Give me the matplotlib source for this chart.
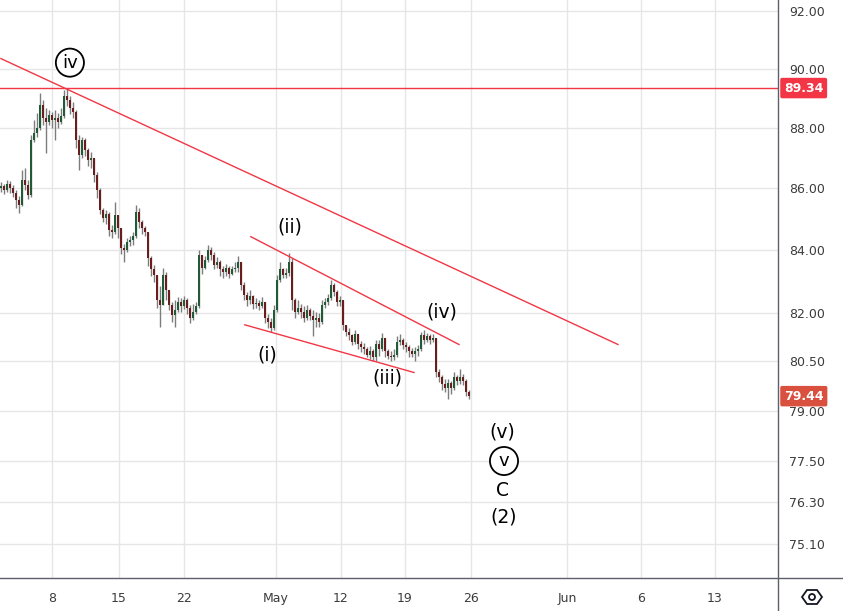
import numpy as np
import matplotlib
matplotlib.use("Agg")
import matplotlib.pyplot as plt
from matplotlib.ticker import FixedLocator, FixedFormatter, NullLocator, NullFormatter
from matplotlib.transforms import blended_transform_factory
from matplotlib.lines import Line2D
from matplotlib.patches import Polygon, Circle

# --- candle data (4h-ish bars) ---
first_open = 86.00
closes = [86.07, 85.94, 86.13, 86.00, 85.84, 85.61, 85.45, 86.27, 86.10, 85.77,
          87.60, 87.83, 88.00, 88.77, 88.33, 88.20, 88.43, 88.27, 88.33, 88.20,
          88.40, 89.07, 88.93, 88.67, 88.53, 87.60, 87.10, 87.60, 87.27, 86.93,
          87.00, 86.43, 85.94, 85.29, 85.03, 85.16, 84.65, 84.58, 85.13, 84.71,
          84.06, 84.00, 84.26, 84.32, 84.45, 85.23, 84.90, 84.71, 84.58, 83.75,
          83.37, 83.21, 82.41, 82.25, 83.21, 82.73, 82.25, 81.94, 82.10, 82.35,
          82.22, 82.41, 82.16, 81.85, 82.03, 82.22, 83.84, 83.43, 83.68, 84.00,
          83.84, 83.52, 83.62, 83.37, 83.30, 83.43, 83.24, 83.37, 83.43, 83.62,
          82.89, 82.57, 82.41, 82.54, 82.29, 82.32, 82.22, 82.35, 81.85, 81.72,
          81.54, 82.10, 83.05, 83.37, 83.21, 83.27, 83.62, 82.41, 82.03, 82.16,
          82.03, 81.85, 82.10, 81.91, 81.79, 81.85, 81.72, 82.25, 82.35, 82.48,
          82.89, 82.67, 82.35, 82.41, 81.63, 81.42, 81.30, 81.11, 81.33, 81.02,
          80.93, 80.87, 80.71, 80.81, 80.62, 81.02, 80.87, 81.23, 80.81, 80.68,
          80.62, 80.71, 81.11, 81.17, 80.99, 80.93, 80.81, 80.74, 80.81, 80.87,
          81.30, 81.17, 81.27, 81.17, 81.23, 80.19, 80.01, 79.80, 79.70, 79.83,
          79.70, 80.01, 79.89, 80.01, 79.89, 79.58, 79.44]
highs = [86.20, 86.13, 86.27, 86.23, 86.10, 85.94, 85.74, 86.60, 86.67, 86.27,
         87.77, 88.27, 88.50, 89.17, 88.93, 88.67, 88.60, 88.53, 88.60, 88.50,
         88.67, 89.27, 89.34, 89.07, 88.87, 88.60, 87.77, 87.70, 87.67, 87.33,
         87.20, 87.00, 86.53, 86.00, 85.35, 85.29, 85.23, 84.81, 85.55, 85.13,
         84.71, 84.19, 84.39, 84.45, 84.58, 85.45, 85.35, 84.97, 84.77, 84.58,
         83.81, 83.52, 83.21, 82.86, 83.43, 83.30, 82.67, 82.35, 82.41, 82.51,
         82.48, 82.54, 82.48, 82.25, 82.29, 82.35, 84.00, 83.84, 83.81, 84.16,
         84.10, 83.94, 83.78, 83.68, 83.49, 83.56, 83.49, 83.49, 83.62, 83.81,
         83.62, 82.98, 82.67, 82.73, 82.57, 82.48, 82.41, 82.51, 82.32, 81.97,
         81.85, 82.25, 83.21, 83.62, 83.43, 83.43, 83.90, 83.75, 82.48, 82.41,
         82.29, 82.22, 82.25, 82.16, 82.10, 82.03, 82.00, 82.41, 82.48, 82.60,
         83.05, 82.95, 82.73, 82.54, 82.41, 81.63, 81.54, 81.36, 81.48, 81.30,
         81.14, 81.08, 80.93, 80.96, 80.87, 81.17, 81.17, 81.39, 81.23, 80.87,
         80.81, 80.87, 81.27, 81.33, 81.23, 81.11, 80.99, 80.90, 80.93, 80.99,
         81.42, 81.48, 81.39, 81.36, 81.36, 81.23, 80.26, 80.07, 79.95, 79.95,
         79.89, 80.19, 80.07, 80.26, 80.10, 79.95, 79.64]
lows = [85.87, 85.81, 85.87, 85.84, 85.71, 85.35, 85.19, 85.42, 85.94, 85.65,
        85.71, 87.53, 87.70, 87.93, 88.10, 87.17, 88.10, 88.00, 87.60, 88.00,
        88.13, 88.33, 88.73, 88.47, 88.33, 87.33, 86.60, 87.00, 87.07, 86.73,
        86.67, 86.20, 85.68, 85.16, 84.90, 84.84, 84.45, 84.39, 84.52, 84.39,
        83.87, 83.62, 83.94, 84.13, 84.16, 84.39, 84.71, 84.52, 84.45, 83.49,
        83.17, 82.98, 82.16, 81.57, 82.25, 82.41, 82.10, 81.72, 81.57, 82.03,
        82.03, 82.13, 81.97, 81.69, 81.79, 81.97, 82.16, 83.24, 83.37, 83.62,
        83.68, 83.37, 83.43, 83.17, 83.11, 83.17, 83.11, 83.21, 83.30, 83.30,
        82.73, 82.41, 82.22, 82.29, 82.13, 82.16, 82.10, 82.16, 81.69, 81.54,
        81.42, 81.48, 82.03, 82.98, 83.11, 83.11, 83.17, 82.10, 81.85, 81.97,
        81.85, 81.72, 81.79, 81.79, 81.27, 81.57, 81.57, 81.66, 82.16, 82.25,
        82.41, 82.54, 82.22, 82.22, 81.48, 81.27, 81.17, 80.99, 81.05, 80.87,
        80.78, 80.74, 80.62, 80.56, 80.50, 80.50, 80.68, 80.81, 80.62, 80.56,
        80.50, 80.53, 80.65, 80.99, 80.87, 80.78, 80.65, 80.62, 80.50, 80.68,
        80.81, 81.05, 81.11, 81.05, 81.11, 80.01, 79.86, 79.64, 79.58, 79.34,
        79.52, 79.64, 79.77, 79.80, 79.77, 79.46, 79.34]

# price axis
price_ticks = [92.0, 90.0, 88.0, 86.0, 84.0, 82.0, 80.5, 79.0, 77.5, 76.3, 75.1]
price_range = (74.12, 92.39)

# time axis (bar index of each date label)
date_ticks = [17, 39.3, 61, 91.7, 113.3, 134.7, 156.7, 188.7, 213.3, 238]
date_labels = ["8", "15", "22", "May", "12", "19", "26", "Jun", "6", "13"]

# drawings: (x0, price0, x1, price1)
main_trend = (0, 90.35, 205.7, 81.02)
wedge_top = (83.3, 84.42, 152.7, 81.02)
wedge_bottom = (81.3, 81.63, 137.7, 80.16)
resistance = 89.34
last_price = 79.44

# wave labels: text, bar x, price, circled
wave_labels = [
    ("iv", 23.0, 90.21, True),
    ("(ii)", 96.3, 84.74, False),
    ("(i)", 88.7, 80.71, False),
    ("(iii)", 128.7, 79.98, False),
    ("(iv)", 147.0, 82.03, False),
    ("(v)", 167.0, 78.35, False),
    ("v", 167.7, 77.50, True),
    ("C", 167.3, 76.62, False),
    ("(2)", 167.7, 75.87, False),
]

green = "#1f5b36"
red = "#6b1c1c"
wick = "#7c7c7c"
line_red = "#f23645"
text_col = "#000000"
axis_col = "#5d606b"

fig = plt.figure(figsize=(8.43, 6.11), dpi=100)
ax = fig.add_axes([0, 33 / 611, 778 / 843, 578 / 611])
ax.set_facecolor("white")

closes = np.array(closes)
opens = np.array([first_open] + list(closes[:-1]))
hi = np.maximum(np.array(highs), np.maximum(opens, closes))
lo = np.minimum(np.array(lows), np.minimum(opens, closes))
x = np.arange(len(closes))

ax.vlines(x, lo, hi, color=wick, lw=1.0, zorder=2)
up = closes >= opens
body = np.maximum(np.abs(closes - opens), 0.02)
bottom = np.minimum(opens, closes)
ax.bar(x[up], body[up], bottom=bottom[up], width=0.7, color=green, zorder=3, linewidth=0)
ax.bar(x[~up], body[~up], bottom=bottom[~up], width=0.7, color=red, zorder=3, linewidth=0)

# trend lines
for x0, p0, x1, p1 in [main_trend, wedge_top, wedge_bottom]:
    ax.plot([x0, x1], [p0, p1], color=line_red, lw=1.0, zorder=4)
ax.axhline(resistance, color=line_red, lw=1.0, zorder=4)

for txt, bx, p, circled in wave_labels:
    if circled:
        ax.text(bx, p, txt, ha="center", va="center", fontsize=13, color=text_col, zorder=6,
                bbox=dict(boxstyle="circle,pad=0.28", fc="white", ec=text_col, lw=1.3))
    else:
        ax.text(bx, p, txt, ha="center", va="center", fontsize=13.5, color=text_col, zorder=6)

ax.set_yscale("log")
ax.set_ylim(*price_range)
ax.set_xlim(-0.3, -0.3 + 778 / 3)

ax.yaxis.tick_right()
ax.yaxis.set_major_locator(FixedLocator(price_ticks))
ax.yaxis.set_major_formatter(FixedFormatter([f"{v:.2f}" for v in price_ticks]))
ax.yaxis.set_minor_locator(NullLocator())
ax.yaxis.set_minor_formatter(NullFormatter())
ax.xaxis.set_major_locator(FixedLocator(date_ticks))
ax.xaxis.set_major_formatter(FixedFormatter(date_labels))
ax.tick_params(axis="y", length=0, pad=8, labelsize=9, labelcolor="#3c3c3c")
ax.tick_params(axis="x", length=0, pad=10, labelsize=9, labelcolor="#3c3c3c")
ax.grid(True, color="#e6e6e6", lw=1.0, zorder=0)
ax.set_axisbelow(True)
for s in ax.spines.values():
    s.set_visible(False)

# price tags
tr = blended_transform_factory(ax.transAxes, ax.transData)
for val, col in [(resistance, line_red), (last_price, "#d9503f")]:
    ax.text(1 + 6 / 778, val, f"{val:.2f}", transform=tr, ha="left", va="center",
            fontsize=9, fontweight="bold", color="white", zorder=10, clip_on=False,
            bbox=dict(boxstyle="round,pad=0.3,rounding_size=0.15", fc=col, ec="none"))

# panel separators
fig.add_artist(Line2D([778 / 843, 778 / 843], [0, 1], color=axis_col, lw=1.0))
fig.add_artist(Line2D([0, 1], [33 / 611, 33 / 611], color=axis_col, lw=1.0))

# settings icon
cx, cy = 8.12, 0.14
hexv = [(cx - 0.10, cy), (cx - 0.05, cy + 0.07), (cx + 0.05, cy + 0.07),
        (cx + 0.10, cy), (cx + 0.05, cy - 0.07), (cx - 0.05, cy - 0.07)]
fig.add_artist(Polygon(hexv, closed=True, fill=False, ec="#131722", lw=1.3,
                       transform=fig.dpi_scale_trans))
fig.add_artist(Circle((cx, cy), 0.03, fill=False, ec="#131722", lw=1.3,
                      transform=fig.dpi_scale_trans))

fig.savefig("out.png", dpi=100, facecolor="white")
